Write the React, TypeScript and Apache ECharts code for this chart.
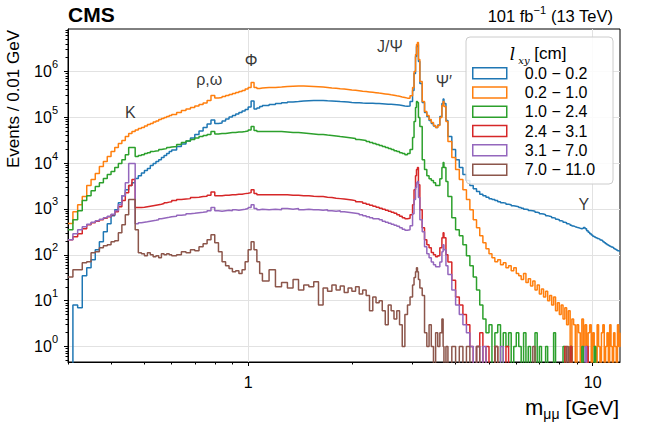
import React, { useEffect, useRef } from "react";
import * as echarts from "echarts";

const FONT = '"Liberation Sans", Arial, Helvetica, sans-serif';

// Bin left edges (GeV)
const MASS = [
  0.30, 0.31, 0.32, 0.33, 0.34, 0.35, 0.36, 0.37, 0.38, 0.39,
  0.40, 0.41, 0.42, 0.43, 0.44, 0.45, 0.46, 0.47, 0.48, 0.49,
  0.50, 0.51, 0.52, 0.53, 0.54, 0.55, 0.56, 0.57, 0.58, 0.59, 0.60,
  0.62, 0.64, 0.66, 0.68, 0.70, 0.72, 0.74, 0.76, 0.78, 0.80,
  0.82, 0.84, 0.86, 0.88, 0.90, 0.92, 0.94, 0.96, 0.98, 1.00,
  1.02, 1.04, 1.06, 1.08, 1.10,
  1.15, 1.20, 1.25, 1.30, 1.35, 1.40, 1.45, 1.50, 1.55, 1.60,
  1.65, 1.70, 1.75, 1.80, 1.85, 1.90, 1.95, 2.00, 2.05, 2.10,
  2.15, 2.20, 2.25, 2.30, 2.35, 2.40, 2.45, 2.50, 2.55, 2.60,
  2.65, 2.70, 2.75, 2.80, 2.85, 2.90,
  2.95, 3.00, 3.03, 3.06, 3.08, 3.10, 3.12, 3.15, 3.20, 3.25,
  3.30, 3.35, 3.40, 3.45, 3.50, 3.55, 3.60, 3.65, 3.68, 3.70,
  3.75, 3.80, 3.90, 4.00,
  4.1, 4.2, 4.3, 4.4, 4.5, 4.6, 4.7, 4.8, 4.9, 5.0,
  5.1, 5.2, 5.3, 5.4, 5.5, 5.6, 5.7, 5.8, 5.9, 6.0,
  6.1, 6.2, 6.3, 6.4, 6.5, 6.6, 6.7, 6.8, 6.9, 7.0,
  7.1, 7.2, 7.3, 7.4, 7.5, 7.6, 7.7, 7.8, 7.9, 8.0,
  8.1, 8.2, 8.3, 8.4, 8.5, 8.6, 8.7, 8.8, 8.9, 9.0,
  9.1, 9.2, 9.3, 9.4, 9.5, 9.6, 9.7, 9.8, 9.9, 10.0,
  10.1, 10.2, 10.3, 10.4, 10.5, 10.6, 10.7, 10.8, 10.9, 11.0,
  11.1, 11.2, 11.3, 11.4, 11.5, 11.6, 11.7, 11.8, 11.9, 12.0,
];

// Events / 0.01 GeV, l_xy 0.0 - 0.2 cm
const LXY_00_02 = [
  0, 8, 7, 35, 52, 78, 129, 193, 319, 478, 714, 966, 1370, 1950, 2640, 3230, 3750, 4590, 5330, 6050, 6860, 7590, 8820, 9750, 10800, 11900, 13200, 14600, 16100, 17800, 19200,
  22900, 26000, 30200, 35200, 41900, 50000, 59600, 71100, 86900, 72800, 74700, 82600, 91400, 101000, 109000, 117500, 127000, 137000, 147000, 167000, 226000, 151000, 159000, 171000, 180000,
  189000, 199000, 207000, 215000, 220000, 226000, 229000, 232000, 232000, 232000, 229000, 227000, 224000, 220000, 217000, 214000, 210000, 208000, 206000, 204000, 203000, 202000, 201000, 200000, 199000, 197000, 195000, 193000, 191000, 189000, 187000, 184000, 180000, 176000, 173000, 176000,
  220000, 383000, 900000, 2110000, 3500000, 3870000, 1640000, 544000, 210000, 127000, 103500, 84700, 72800, 64300, 59600, 67600, 103500, 199000, 250000, 199000, 85000, 37900, 19700, 11900,
  7980, 5610, 4150, 3230, 2770, 2390, 2100, 1950, 1810, 1680, 1600, 1520, 1440, 1370, 1340, 1270, 1240, 1180, 1150, 1120,
  1080, 1040, 990, 975, 930, 918, 890, 851, 830, 789,
  775, 751, 715, 697, 675, 646, 625, 599, 580, 556,
  540, 515, 500, 478, 462, 443, 425, 411, 400, 391,
  380, 372, 380, 395, 370, 336, 310, 289, 270, 255,
  245, 236, 226, 219, 210, 203, 193, 184, 175, 166,
  160, 154, 148, 143, 138, 133, 128, 123, 120, 117,
];

// l_xy 0.2 - 1.0 cm
const LXY_02_10 = [
  480, 870, 1240, 1860, 3230, 4370, 5900, 8390, 10800, 13900, 17800, 21800, 26700, 31000, 37900, 44100, 48700, 52600, 56600, 59600, 64300, 69300, 72800, 78500, 82600, 89100, 93700, 98500, 103500, 108900, 114500,
  126700, 140000, 151000, 163000, 176000, 189000, 204000, 232000, 298000, 263000, 269000, 283000, 298000, 313000, 330000, 346000, 364000, 383000, 413000, 446000, 573000, 446000, 424000, 435000, 446000,
  446000, 457000, 468000, 475000, 480000, 480000, 475000, 468000, 461000, 454000, 446000, 436000, 428000, 419000, 411000, 403000, 394000, 387000, 379000, 371000, 364000, 357000, 350000, 343000, 336000, 330000, 323000, 316000, 308000, 301000, 293000, 286000, 277000, 269000, 261000, 259000,
  295000, 446000, 995000, 2340000, 3870000, 4280000, 1820000, 602000, 220000, 133000, 109000, 89100, 76600, 65900, 59600, 65900, 98500, 180000, 220000, 171000, 80500, 29400, 13200, 7210,
  4370, 2640, 1600, 966, 584, 391, 261, 184, 136, 106, 86, 71, 78, 61, 67, 52, 58, 45, 52, 39,
  35, 29, 39, 25, 30, 21, 27, 17, 22, 14,
  18, 12, 16, 10, 13, 8, 12, 6, 9, 5,
  8, 4, 7, 3, 6, 0, 4, 3, 0, 3,
  2, 0, 4, 1, 3, 0, 2, 3, 0, 2,
  1, 0, 3, 1, 0, 2, 3, 0, 1, 2,
  0, 3, 1, 0, 2, 1, 0, 3, 1, 2,
];

// l_xy 1.0 - 2.4 cm
const LXY_10_24 = [
  353, 584, 918, 1520, 1950, 2510, 3070, 3750, 4590, 5610, 6520, 7980, 9750, 11900, 15300, 21800, 21800, 13900, 14600, 15300, 16100, 16900, 17800, 18300, 18700, 19700, 20200, 20700, 21800, 22400, 22900,
  25300, 28000, 30200, 32600, 35200, 37900, 39900, 41900, 48700, 43000, 44100, 44100, 45200, 46300, 46300, 47500, 47500, 48700, 50000, 52600, 62700, 51300, 48700, 48700, 48700,
  48700, 48700, 47500, 46300, 46300, 45200, 44100, 43000, 41900, 41900, 40800, 39900, 38900, 37900, 37000, 36100, 35200, 34300, 32600, 31800, 31000, 29500, 28000, 26700, 25300, 24100, 22900, 21800, 20700, 19700, 18700, 17800, 16900, 16100, 15300, 16100,
  19700, 36100, 80500, 163000, 220000, 209000, 98500, 62700, 11900, 7210, 5330, 4540, 4150, 3750, 3230, 3230, 4540, 7980, 10300, 7980, 3950, 1860, 646, 353,
  261, 166, 95, 58, 33, 17, 8, 4, 2, 3, 0, 2, 3, 0, 2, 1, 2, 0, 1, 2,
  1, 0, 2, 0, 1, 0, 0, 2, 0, 1,
  0, 0, 1, 0, 0, 0, 2, 0, 0, 0,
  0, 1, 0, 0, 0, 1, 0, 0, 0, 0,
  0, 0, 1, 0, 0, 0, 0, 0, 0, 0,
  1, 0, 0, 0, 0, 0, 0, 0, 0, 0,
  0, 0, 0, 0, 0, 0, 0, 0, 0, 0,
];

// l_xy 2.4 - 3.1 cm
const LXY_24_31 = [
  214, 249, 289, 372, 454, 502, 542, 584, 630, 679, 751, 873, 1120, 1520, 2270, 3230, 4370, 1070, 1070, 1090, 1120, 1150, 1180, 1210, 1240, 1270, 1310, 1370, 1410, 1440, 1520,
  1600, 1640, 1680, 1770, 1810, 1860, 1900, 2000, 2330, 1950, 1950, 2000, 2000, 2050, 2050, 2100, 2100, 2160, 2210, 2270, 2640, 2160, 2050, 2050, 2050,
  2050, 2050, 2050, 2000, 2000, 1950, 1950, 1900, 1860, 1860, 1810, 1770, 1720, 1680, 1640, 1600, 1560, 1520, 1440, 1410, 1340, 1270, 1210, 1150, 1090, 1040, 990, 941, 895, 851, 809, 751, 697, 646, 614, 630,
  751, 1240, 2640, 5330, 7210, 7980, 3390, 966, 391, 214, 166, 143, 113, 100, 91, 95, 143, 236, 304, 236, 100, 70, 28, 12,
  8, 5, 3, 1, 0, 1, 2, 0, 1, 0, 0, 1, 0, 0, 0, 1, 0, 0, 0, 0,
  0, 0, 0, 0, 0, 0, 0, 0, 0, 0,
  0, 0, 0, 0, 0, 0, 0, 0, 0, 0,
  0, 0, 1, 0, 0, 1, 0, 0, 0, 0,
  0, 0, 0, 0, 0, 1, 0, 0, 0, 0,
  0, 0, 0, 0, 0, 0, 0, 0, 0, 0,
  0, 0, 0, 0, 0, 0, 0, 0, 0, 0,
];

// l_xy 3.1 - 7.0 cm
const LXY_31_70 = [
  214, 289, 353, 411, 466, 515, 556, 599, 646, 697, 770, 918, 1240, 1950, 3750, 9750, 9750, 478, 502, 515, 528, 542, 556, 569, 584, 614, 630, 646, 662, 679, 697,
  732, 751, 789, 809, 830, 851, 873, 918, 1070, 918, 895, 918, 941, 918, 966, 941, 966, 990, 1020, 1070, 1240, 1020, 966, 990, 966,
  990, 966, 1020, 990, 1020, 966, 990, 966, 966, 941, 966, 918, 895, 918, 873, 851, 830, 809, 789, 751, 714, 679, 646, 614, 614, 584, 542, 515, 490, 466, 443, 421, 391, 362, 345, 353,
  432, 789, 1600, 2920, 3750, 3950, 1770, 584, 319, 150, 106, 86, 70, 61, 55, 55, 70, 116, 166, 129, 58, 37, 17, 8,
  5, 3, 2, 1, 0, 1, 0, 1, 0, 0, 0, 0, 0, 1, 0, 0, 0, 0, 0, 0,
  0, 0, 0, 0, 0, 0, 0, 0, 0, 0,
  0, 0, 0, 0, 0, 0, 0, 0, 0, 0,
  0, 0, 0, 0, 0, 0, 0, 0, 0, 0,
  0, 0, 0, 0, 1, 0, 0, 0, 0, 0,
  0, 0, 0, 0, 0, 0, 0, 0, 0, 0,
  0, 0, 0, 0, 0, 0, 0, 0, 0, 0,
];

// l_xy 7.0 - 11.0 cm
const LXY_70_110 = [
  33, 47, 47, 67, 71, 111, 117, 143, 158, 166, 193, 203, 304, 454, 751, 1600, 1600, 353, 111, 106, 95, 111, 100, 91, 95, 86, 106, 100, 106, 100, 95,
  100, 117, 111, 129, 123, 150, 175, 214, 275, 184, 117, 71, 58, 50, 43, 45, 39, 47, 71, 129, 193, 129, 71, 39, 27,
  47, 20, 25, 19, 29, 17, 22, 20, 26, 8, 19, 16, 22, 17, 21, 15, 19, 16, 20, 14, 17, 13, 6, 12, 9, 10, 6, 3, 8, 6, 4, 6, 3, 1, 5, 8,
  12, 22, 32, 43, 52, 43, 29, 19, 13, 2, 1, 3, 1, 0, 2, 1, 2, 4, 1, 0, 1, 0, 1, 0,
  1, 0, 1, 0, 0, 1, 0, 0, 0, 0, 0, 1, 0, 0, 0, 0, 0, 0, 0, 0,
  0, 0, 0, 0, 0, 0, 1, 0, 0, 0,
  0, 0, 0, 0, 0, 0, 0, 0, 0, 0,
  0, 0, 0, 1, 0, 0, 0, 0, 0, 0,
  0, 0, 0, 0, 0, 0, 0, 0, 0, 0,
  0, 0, 0, 0, 0, 0, 0, 0, 0, 0,
  0, 0, 0, 0, 0, 0, 0, 0, 0, 0,
];

const SERIES_NAMES = ["0.0 − 0.2", "0.2 − 1.0", "1.0 − 2.4", "2.4 − 3.1", "3.1 − 7.0", "7.0 − 11.0"];
const SERIES_VALUES = [LXY_00_02, LXY_02_10, LXY_10_24, LXY_24_31, LXY_31_70, LXY_70_110];
const COLORS = ["#1f77b4", "#ff7f0e", "#2ca02c", "#d62728", "#9467bd", "#8c564b"];

const X_TICKS = [1, 10];
const X_TICK_LABELS = ["1", "10"];
const X_MINOR = [0.3, 0.4, 0.5, 0.6, 0.7, 0.8, 0.9, 2, 3, 4, 5, 6, 7, 8, 9];
const Y_TICKS = [1, 10, 100, 1000, 10000, 100000, 1000000];
const Y_TICK_EXP = ["0", "1", "2", "3", "4", "5", "6"];
const Y_MINOR_MULT = [2, 3, 4, 5, 6, 7, 8, 9];

const ANNOT_TEXT = ["K", "ρ,ω", "Φ", "J/Ψ", "Ψ′", "Υ"];
const ANNOT_MASS = [0.455, 0.771, 1.02, 2.58, 3.7, 9.42];
const ANNOT_HEIGHT = [125000, 680000, 1700000, 3500000, 587000, 1270];

const X_MIN = 0.3;
const X_MAX = 12;
const Y_MIN = 0.46;
const Y_MAX = 8.4e6;
const EMPTY_BIN = 0.05; // empty bins drawn below the axis floor

function buildOption() {
  const yMinor: number[] = [];
  [0.1, ...Y_TICKS].forEach((dec) => {
    Y_MINOR_MULT.forEach((m) => {
      const v = m * dec;
      if (v > Y_MIN && v < Y_MAX) yMinor.push(v);
    });
  });

  const tickLine = { color: "#000", width: 1 };

  const series: any[] = SERIES_VALUES.map((vals, i) => ({
    type: "line",
    name: SERIES_NAMES[i],
    data: MASS.map((m, j) => [m, vals[j] > 0 ? vals[j] : EMPTY_BIN]),
    step: "end",
    symbol: "none",
    showSymbol: false,
    color: COLORS[i],
    itemStyle: { color: COLORS[i] },
    lineStyle: { color: COLORS[i], width: 1.5 },
    clip: true,
    silent: true,
    emphasis: { disabled: true },
    xAxisIndex: 0,
    yAxisIndex: 0,
  }));

  series.push({
    type: "scatter",
    name: "annotations",
    xAxisIndex: 0,
    yAxisIndex: 0,
    symbolSize: 1,
    itemStyle: { color: "rgba(0,0,0,0)" },
    silent: true,
    z: 6,
    label: {
      show: true,
      position: "inside",
      formatter: "{b}",
      fontSize: 16,
      color: "#000",
      fontFamily: FONT,
    },
    data: ANNOT_TEXT.map((t, i) => ({ name: t, value: [ANNOT_MASS[i], ANNOT_HEIGHT[i]] })),
  });

  return {
    animation: false,
    backgroundColor: "#fff",
    grid: {
      left: 68,
      right: 28,
      top: 29,
      bottom: 68,
      show: true,
      borderColor: "#000",
      borderWidth: 1,
      backgroundColor: "rgba(0,0,0,0)",
      containLabel: false,
      outerBoundsMode: "none",
    },
    xAxis: [
      {
        type: "log",
        logBase: 10,
        min: X_MIN,
        max: X_MAX,
        position: "bottom",
        axisLine: { show: true, onZero: false, lineStyle: tickLine },
        axisTick: { show: true, customValues: X_TICKS, length: 4, lineStyle: tickLine },
        axisLabel: {
          show: true,
          customValues: X_TICKS,
          formatter: (v: number) => {
            const k = X_TICKS.findIndex((t) => Math.abs(t - v) < 1e-6 * t);
            return k >= 0 ? X_TICK_LABELS[k] : "";
          },
          fontSize: 16,
          color: "#000",
          fontFamily: FONT,
          margin: 12,
        },
        splitLine: { show: true, lineStyle: { color: "#e2e2e2", width: 1 } },
        minorTick: { show: false },
        minorSplitLine: { show: false },
      },
      {
        type: "log",
        logBase: 10,
        min: X_MIN,
        max: X_MAX,
        position: "bottom",
        axisLine: { show: false },
        axisTick: { show: true, customValues: X_MINOR, length: 2.5, lineStyle: tickLine },
        axisLabel: { show: false },
        splitLine: { show: false },
      },
    ],
    yAxis: [
      {
        type: "log",
        logBase: 10,
        min: Y_MIN,
        max: Y_MAX,
        position: "left",
        axisLine: { show: true, onZero: false, lineStyle: tickLine },
        axisTick: { show: true, customValues: Y_TICKS, length: 4, lineStyle: tickLine },
        axisLabel: {
          show: true,
          customValues: Y_TICKS,
          margin: 10,
          formatter: (v: number) => {
            const e = Math.round(Math.log10(v));
            const k = Y_TICKS.findIndex((t) => Math.round(Math.log10(t)) === e);
            return `{b|10}{s|${k >= 0 ? Y_TICK_EXP[k] : e}}`;
          },
          rich: {
            b: { fontSize: 16, lineHeight: 26, color: "#000", fontFamily: FONT },
            s: { fontSize: 11, lineHeight: 11, verticalAlign: "top", color: "#000", fontFamily: FONT },
          },
        },
        splitLine: { show: true, lineStyle: { color: "#e2e2e2", width: 1 } },
        minorTick: { show: false },
      },
      {
        type: "log",
        logBase: 10,
        min: Y_MIN,
        max: Y_MAX,
        position: "left",
        axisLine: { show: false },
        axisTick: { show: true, customValues: yMinor, length: 2.5, lineStyle: tickLine },
        axisLabel: { show: false },
        splitLine: { show: false },
      },
    ],
    legend: {
      show: true,
      orient: "vertical",
      left: 472,
      top: 63.5,
      itemWidth: 34,
      itemHeight: 11,
      itemGap: 0,
      padding: 0,
      selectedMode: false,
      z: 60,
      textStyle: {
        fontSize: 16,
        color: "#000",
        fontFamily: FONT,
        lineHeight: 19.3,
        padding: [0, 0, 0, 13],
      },
      data: SERIES_NAMES.map((n, i) => ({
        name: n,
        icon: "rect",
        itemStyle: { color: "rgba(0,0,0,0)", borderColor: COLORS[i], borderWidth: 1.5 },
      })),
    },
    graphic: [
      {
        type: "rect",
        z: 50,
        silent: true,
        shape: { x: 466, y: 37, width: 147, height: 147, r: 4 },
        style: { fill: "rgba(255,255,255,0.85)", stroke: "#cccccc", lineWidth: 1 },
      },
      {
        type: "text",
        z: 60,
        silent: true,
        x: 538,
        y: 53.5,
        style: {
          text: "{i|l}{s| xy}{n| [cm]}",
          align: "center",
          verticalAlign: "middle",
          rich: {
            i: { fontSize: 17, lineHeight: 24, fontStyle: "italic", fontFamily: '"DejaVu Serif", serif', fill: "#000" },
            s: { fontSize: 10, lineHeight: 10, verticalAlign: "bottom", fontStyle: "italic", fontFamily: '"DejaVu Serif", serif', fill: "#000" },
            n: { fontSize: 17, lineHeight: 24, fontFamily: FONT, fill: "#000" },
          },
        },
      },
      {
        type: "text",
        silent: true,
        x: 68,
        y: 14,
        style: { text: "CMS", fontSize: 21, fontWeight: "bold", fontFamily: FONT, fill: "#000", align: "left", verticalAlign: "middle" },
      },
      {
        type: "text",
        silent: true,
        x: 613,
        y: 15.5,
        style: {
          text: "{n|101 fb}{s|−1}{n| (13 TeV)}",
          align: "right",
          verticalAlign: "middle",
          rich: {
            n: { fontSize: 16.5, lineHeight: 22, fontFamily: FONT, fill: "#000" },
            s: { fontSize: 11, lineHeight: 11, verticalAlign: "top", fontFamily: FONT, fill: "#000" },
          },
        },
      },
      {
        type: "text",
        silent: true,
        x: 13.5,
        y: 30,
        rotation: Math.PI / 2,
        style: { text: "Events / 0.01 GeV", fontSize: 17, fontFamily: FONT, fill: "#000", align: "right", verticalAlign: "middle" },
      },
      {
        type: "text",
        silent: true,
        x: 619,
        y: 407,
        style: {
          text: "{m|m}{sub|μμ}{g| [GeV]}",
          align: "right",
          verticalAlign: "middle",
          rich: {
            m: { fontSize: 22, lineHeight: 28, fontFamily: FONT, fill: "#000" },
            sub: { fontSize: 14, lineHeight: 14, verticalAlign: "bottom", fontFamily: FONT, fill: "#000" },
            g: { fontSize: 21, lineHeight: 28, fontFamily: FONT, fill: "#000" },
          },
        },
      },
    ],
    series,
  };
}

export default function App() {
  const ref = useRef<HTMLDivElement>(null);
  useEffect(() => {
    if (!ref.current) return;
    const chart = echarts.init(ref.current, null, { renderer: "svg" });
    chart.setOption(buildOption() as any);
    return () => {
      chart.dispose();
    };
  }, []);
  return (
    <div
      ref={ref}
      style={{ position: "fixed", left: 0, top: 0, width: 648, height: 430, background: "#fff" }}
    />
  );
}
